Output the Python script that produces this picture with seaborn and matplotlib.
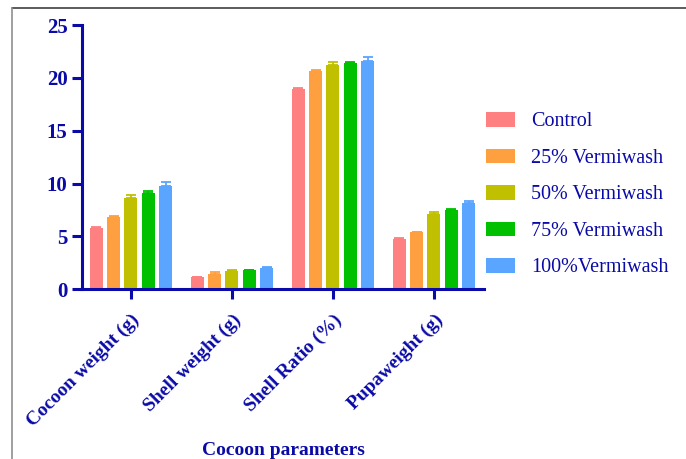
import pandas as pd
import matplotlib.pyplot as plt
import seaborn as sns
from matplotlib.lines import Line2D

# data
parameters = ['Cocoon weight (g)', 'Shell weight (g)', 'Shell Ratio (%)', 'Pupaweight (g)']
treatments = ['Control', '25% Vermiwash', '50% Vermiwash', '75% Vermiwash', '100%Vermiwash']
control = [5.75, 1.13, 18.95, 4.78]
vw25 = [6.87, 1.48, 20.62, 5.38]
vw50 = [8.6, 1.68, 21.25, 7.15]
vw75 = [9.13, 1.78, 21.38, 7.48]
vw100 = [9.75, 2.02, 21.62, 8.12]
err_control = [0.15, 0.05, 0.08, 0.05]
err_25 = [0.08, 0.1, 0.08, 0.06]
err_50 = [0.3, 0.15, 0.22, 0.15]
err_75 = [0.12, 0.08, 0.13, 0.13]
err_100 = [0.4, 0.1, 0.32, 0.22]

colors = ['#FF8080', '#FFA040', '#C0C000', '#00C000', '#5AA5FF']
navy = '#0A0AA8'

rows = []
for t, vals, errs in zip(treatments, [control, vw25, vw50, vw75, vw100],
                         [err_control, err_25, err_50, err_75, err_100]):
    for p, v, e in zip(parameters, vals, errs):
        rows.append({'parameter': p, 'treatment': t, 'value': v, 'err': e})
df = pd.DataFrame(rows)

sns.set_style('white')
plt.rcParams['font.family'] = ['Liberation Serif', 'DejaVu Serif']

fig = plt.figure(figsize=(6.86, 4.59), dpi=100)
ax = fig.add_axes([0.1195, 0.370, 0.586, 0.5755])

sns.barplot(data=df, x='parameter', y='value', hue='treatment', order=parameters,
            hue_order=treatments, palette=colors, width=0.86, gap=0.25,
            errorbar=None, saturation=1, linewidth=0, ax=ax, legend=True)

# upper error bars on each bar
for i, t in enumerate(treatments):
    cont = ax.containers[i]
    sub = df[df.treatment == t].set_index('parameter').loc[parameters]
    xs = [b.get_x() + b.get_width() / 2 for b in cont]
    ax.errorbar(xs, sub['value'], yerr=[[0] * len(xs), sub['err']], fmt='none',
                ecolor=colors[i], elinewidth=1.3, capsize=3.5, capthick=1.3)

ax.set_xlim(-0.485, 3.495)
ax.set_ylim(0, 25)
ax.set_yticks([0, 5, 10, 15, 20, 25])
for s in ['top', 'right']:
    ax.spines[s].set_visible(False)
for s in ['left', 'bottom']:
    ax.spines[s].set_color(navy)
    ax.spines[s].set_linewidth(2.2)
ax.tick_params(axis='both', colors=navy, width=2.2, length=7, direction='out',
               left=True, bottom=True)
ax.tick_params(axis='x', pad=9)
for lab in ax.get_yticklabels():
    lab.set_fontweight('bold')
    lab.set_fontsize(15)
    lab.set_color(navy)
ax.set_xticks(range(len(parameters)))
ax.set_xticklabels(parameters, rotation=45, ha='right', rotation_mode='anchor',
                   fontsize=14, fontweight='bold', color=navy)
ax.set_xlabel('Cocoon parameters', fontsize=14, fontweight='bold', color=navy)
ax.xaxis.set_label_coords(0.5, -0.61)
ax.xaxis.label.set_va('center')
ax.set_ylabel('')

leg = ax.legend(loc='upper left', bbox_to_anchor=(486 / 686, 1 - 112 / 459),
                bbox_transform=fig.transFigure, frameon=False, fontsize=14.5,
                borderpad=0, borderaxespad=0, handlelength=1.45, handleheight=0.75,
                labelspacing=0.85, handletextpad=0.8)
for txt in leg.get_texts():
    txt.set_color(navy)

# thin frame around the figure (top and left edges)
fig.add_artist(Line2D([12 / 686, 1], [1 - 8 / 459, 1 - 8 / 459], color='#404040', lw=1.2,
                      transform=fig.transFigure))
fig.add_artist(Line2D([12 / 686, 12 / 686], [0, 1 - 8 / 459], color='#909090', lw=1.2,
                      transform=fig.transFigure))

fig.savefig('out.png', dpi=100)
